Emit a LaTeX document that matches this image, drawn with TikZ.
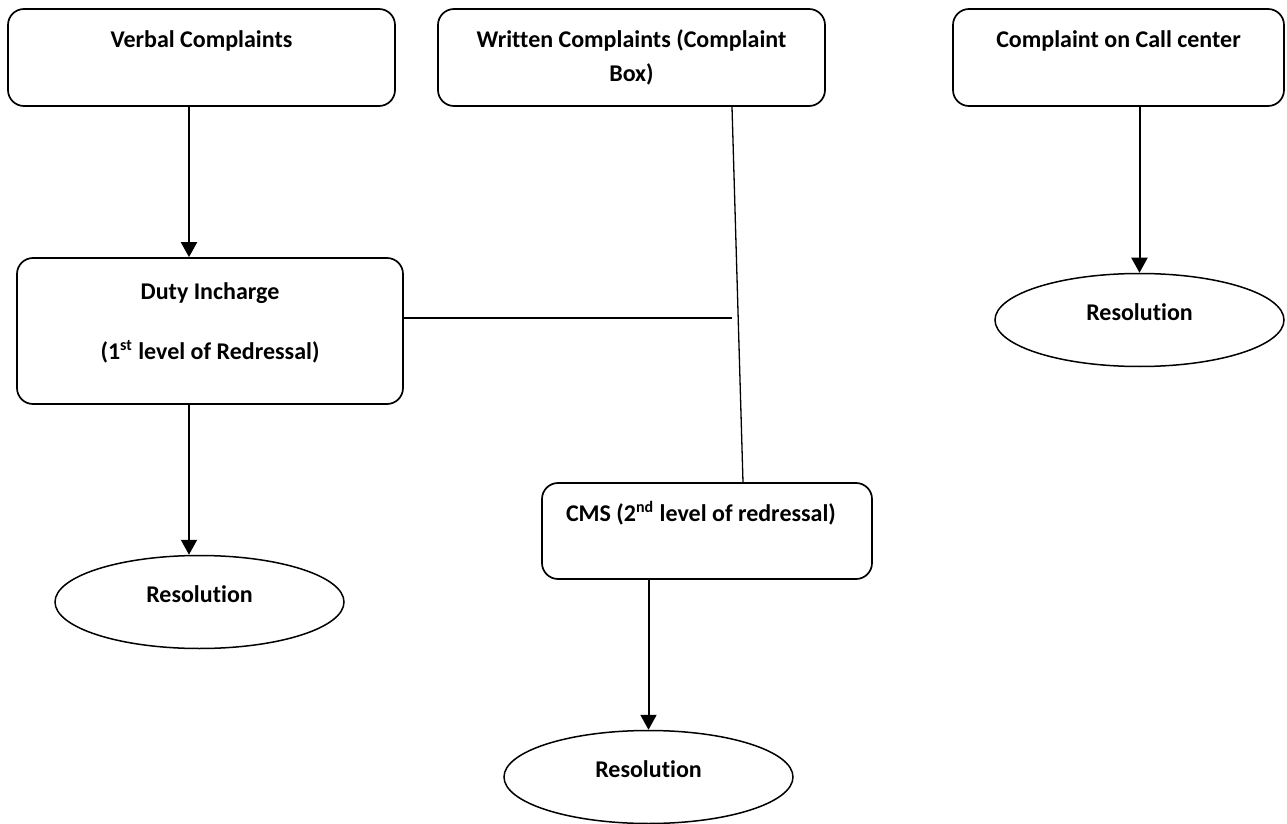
\documentclass[tikz,border=0pt]{standalone}
\usepackage{fontspec}
\setmainfont{Carlito}[Ligatures={NoCommon}]
\usetikzlibrary{calc}
\usetikzlibrary{shapes}
\usetikzlibrary{arrows.meta}

% text set at the top of a box: width, height, top pad, text
\newcommand{\boxtext}[4]{\parbox[c][#2][t]{#1}{\centering\vspace*{#3}\strut#4}}

\tikzset{
	cbox/.style={draw, line width=0.85pt, rounded corners=8pt, inner sep=0pt,
		font=\bfseries\fontsize{12}{17}\selectfont},
	res/.style={draw, ellipse, line width=0.75pt, inner sep=0pt,
		minimum width=144.5pt, minimum height=46.5pt, text depth=8pt,
		font=\bfseries\fontsize{12}{17}\selectfont},
	arr/.style={line width=1pt, -{Triangle[width=8pt,length=7.5pt]}},
	link/.style={line width=0.65pt}
}

\begin{document}
\begin{tikzpicture}[x=0.5pt, y=-0.5pt]
		\useasboundingbox (0,0) rectangle (1287,824);
%		complaint sources
		\node[cbox] (vc) at (201.5,57.5)
		{\boxtext{193.5pt}{48.5pt}{7.4pt}{Verbal Complaints}};
		\node[cbox] (wc) at (631.5,57.5)
		{\boxtext{193.5pt}{48.5pt}{7.3pt}{Written Complaints (Complaint\\ Box)}};
		\node[cbox] (cc) at (1118.5,57.5)
		{\boxtext{165.5pt}{48.5pt}{7.3pt}{Complaint on Call center}};
%		levels of redressal
		\node[cbox] (di) at (210,331)
		{\boxtext{193pt}{73pt}{8.6pt}{Duty Incharge\\[13pt] (1\textsuperscript{st} level of Redressal)}};
		\node[cbox] (cms) at (707,531)
		{\boxtext{165pt}{48pt}{7.1pt}{\hspace*{-6pt}CMS (2\textsuperscript{nd} level of redressal)}};
%		resolutions
		\node[res] (r1) at (199.5,602) {Resolution};
		\node[res] (r2) at (648.5,777) {Resolution};
		\node[res] (r3) at (1139.5,320) {Resolution};

		\coordinate (colA) at (189,0);
		\coordinate (wx1) at (732,0);
		\coordinate (wx2) at (743,0);
		\coordinate (hend) at (732,318);
%		arrows
		\draw[arr] (vc.south -| colA) -- (di.north -| colA);
		\draw[arr] (di.south -| colA) -- (r1.north -| colA);
		\draw[arr] (cms.south -| r2.north) -- (r2.north);
		\draw[arr] (cc.south -| r3.north) -- (r3.north);
%		written complaints line
		\draw[link] (wc.south -| wx1) -- (cms.north -| wx2);
		\draw[link] (di.east |- hend) -- (hend);
	\end{tikzpicture}
\end{document}
